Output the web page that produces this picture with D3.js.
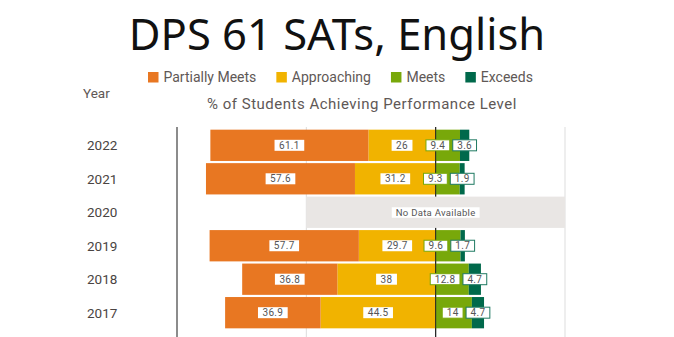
<!DOCTYPE html>
<html>
<head>
<meta charset="utf-8">
<script src="https://cdn.jsdelivr.net/npm/d3@7"></script>
<style>
  html, body { margin: 0; padding: 0; background: #fff; }
  svg text { font-family: Roboto, "Noto Sans", sans-serif; }
</style>
</head>
<body>
<div id="chart"></div>
<script>
// Data
const years = ['2022', '2021', '2020', '2019', '2018', '2017'];
const partiallyMeets = [61.1, 57.6, null, 57.7, 36.8, 36.9];
const approaching = [26, 31.2, null, 29.7, 38, 44.5];
const meets = [9.4, 9.3, null, 9.6, 12.8, 14];
const exceeds = [3.6, 1.9, null, 1.7, 4.7, 4.7];
const levels = ['Partially Meets', 'Approaching', 'Meets', 'Exceeds'];
const xTicks = [-50, 0, 50];

const colors = {
    'Partially Meets': '#E87722',
    'Approaching': '#F1B300',
    'Meets': '#78A80A',
    'Exceeds': '#00694B'
};

const W = 674, H = 337;
const svg = d3.select('#chart').append('svg')
    .attr('width', W)
    .attr('height', H);

// Title
svg.append('text')
    .attr('x', 337).attr('y', 50)
    .attr('text-anchor', 'middle')
    .style('font-family', '"Noto Sans", "Open Sans", sans-serif')
    .style('font-size', '43.5px')
    .attr('fill', '#111')
    .text('DPS 61 SATs, English');

// Legend (flows left to right)
let lx = 148;
levels.forEach(name => {
    svg.append('rect')
        .attr('x', lx).attr('y', 72)
        .attr('width', 10.5).attr('height', 10.5)
        .attr('fill', colors[name]);
    const t = svg.append('text')
        .attr('x', lx + 15.5).attr('y', 81.5)
        .style('font-size', '14px')
        .attr('fill', '#605856')
        .text(name);
    lx += 15.5 + t.node().getComputedTextLength() + 20;
});

svg.append('text')
    .attr('x', 83).attr('y', 98)
    .style('font-size', '13.5px')
    .attr('fill', '#605856')
    .text('Year');

svg.append('text')
    .attr('x', 362).attr('y', 108.5)
    .attr('text-anchor', 'middle')
    .style('font-size', '15px')
    .style('letter-spacing', '0.5px')
    .attr('fill', '#605856')
    .text('% of Students Achieving Performance Level');

// Scales
const x = d3.scaleLinear().domain([-100, 50]).range([177, 565]);
const y = d3.scaleBand().domain(years).range([129, 329]).paddingInner(0.065).paddingOuter(0.02);

// Gridlines
svg.append('g')
    .selectAll('line')
    .data(xTicks)
    .enter()
    .append('line')
    .attr('x1', d => x(d)).attr('x2', d => x(d))
    .attr('y1', 127).attr('y2', H)
    .attr('stroke', d => d === 0 ? '#333' : '#ddd')
    .attr('stroke-width', 1);

// Left axis line
svg.append('line')
    .attr('x1', x(-100)).attr('x2', x(-100))
    .attr('y1', 127).attr('y2', H)
    .attr('stroke', '#666').attr('stroke-width', 1.5);

// Year labels
svg.append('g')
    .selectAll('text')
    .data(years)
    .enter()
    .append('text')
    .attr('x', 87)
    .attr('y', d => y(d) + y.bandwidth() / 2 + 5)
    .style('font-size', '13.5px')
    .attr('fill', '#4a4442')
    .text(d => d);

// Build segments: negative side stacked leftward from 0, positive side rightward
const segments = [];
years.forEach((yr, i) => {
    if (partiallyMeets[i] === null) return;
    const a = approaching[i], p = partiallyMeets[i], m = meets[i], e = exceeds[i];
    segments.push({ yr, level: 'Approaching', v: a, x0: -a, x1: 0 });
    segments.push({ yr, level: 'Partially Meets', v: p, x0: -a - p, x1: -a });
    segments.push({ yr, level: 'Meets', v: m, x0: 0, x1: m });
    segments.push({ yr, level: 'Exceeds', v: e, x0: m, x1: m + e });
});

const bars = svg.append('g');
bars.selectAll('rect')
    .data(segments)
    .enter()
    .append('rect')
    .attr('x', d => x(d.x0))
    .attr('y', d => y(d.yr))
    .attr('width', d => x(d.x1) - x(d.x0))
    .attr('height', y.bandwidth())
    .attr('fill', d => colors[d.level]);

// Zero line on top of bars
svg.append('line')
    .attr('x1', x(0)).attr('x2', x(0))
    .attr('y1', 127).attr('y2', H)
    .attr('stroke', '#222').attr('stroke-width', 1);

// No data row
years.forEach((yr, i) => {
    if (partiallyMeets[i] !== null) return;
    svg.append('rect')
        .attr('x', x(-50)).attr('y', y(yr))
        .attr('width', x(50) - x(-50)).attr('height', y.bandwidth())
        .attr('fill', '#E9E6E4');
    const cy = y(yr) + y.bandwidth() / 2;
    const g = svg.append('g');
    const t = g.append('text')
        .attr('x', x(0)).attr('y', cy + 3.5)
        .attr('text-anchor', 'middle')
        .style('font-size', '9.5px')
        .style('letter-spacing', '0.3px')
        .attr('fill', '#555')
        .text('No Data Available');
    const w = t.node().getComputedTextLength() + 8;
    g.insert('rect', 'text')
        .attr('x', x(0) - w / 2).attr('y', cy - 5)
        .attr('width', w).attr('height', 10.5)
        .attr('fill', '#fff');
});

// Data labels
const labels = svg.append('g');
const borders = { 'Meets': '#78A80A', 'Exceeds': '#1f7a62' };
years.forEach(yr => {
    const rowSegs = segments.filter(s => s.yr === yr);
    if (!rowSegs.length) return;
    const cy = y(yr) + y.bandwidth() / 2;
    const boxes = {};
    rowSegs.forEach(s => {
        const g = labels.append('g');
        const t = g.append('text')
            .attr('y', cy + 3.6)
            .attr('text-anchor', 'middle')
            .style('font-size', '10px')
            .style('letter-spacing', '0.3px')
            .attr('fill', '#555')
            .text(s.v);
        const w = t.node().getComputedTextLength() + 9;
        boxes[s.level] = { g, t, w, cx: (x(s.x0) + x(s.x1)) / 2, s };
    });
    // push the Meets label left so it doesn't collide with Exceeds
    const mB = boxes['Meets'], eB = boxes['Exceeds'];
    const eLeft = eB.cx - eB.w / 2;
    if (mB.cx + mB.w / 2 > eLeft - 3) mB.cx = eLeft - 3 - mB.w / 2;
    Object.values(boxes).forEach(b => {
        b.t.attr('x', b.cx);
        const r = b.g.insert('rect', 'text')
            .attr('x', b.cx - b.w / 2).attr('y', cy - 5.5)
            .attr('width', b.w).attr('height', 11)
            .attr('fill', '#fff');
        if (borders[b.s.level]) {
            r.attr('stroke', borders[b.s.level]).attr('stroke-width', 1);
        }
    });
});
</script>
</body>
</html>
